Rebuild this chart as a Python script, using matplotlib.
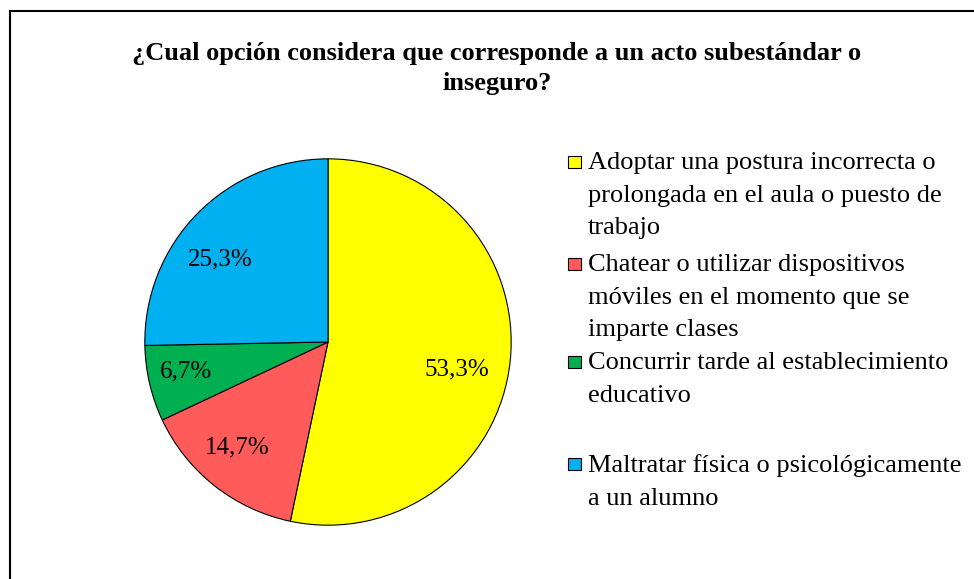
import numpy as np
import matplotlib.pyplot as plt
from matplotlib.patches import Rectangle
from matplotlib.lines import Line2D

plt.rcParams['font.family'] = ['Liberation Serif', 'DejaVu Serif']

titulo = "¿Cual opción considera que corresponde a un acto subestándar o\ninseguro?"
opciones = [
    "Adoptar una postura incorrecta o\nprolongada en el aula o puesto de\ntrabajo",
    "Chatear o utilizar dispositivos\nmóviles en el momento que se\nimparte clases",
    "Concurrir tarde al establecimiento\neducativo",
    "Maltratar física o psicológicamente\na un alumno",
]
porcentajes = [53.3, 14.7, 6.7, 25.3]
colores = ["#FFFF00", "#FF5B5B", "#00B050", "#00B0F0"]

# colocacion de etiquetas tipo "mejor ajuste" de Excel: (distancia, giro en grados)
ajuste_etiquetas = [(0.72, -6.2), (0.76, -2.3), (0.79, -1.3), (0.74, 7.2)]

W, H = 974, 579
fig = plt.figure(figsize=(W / 100, H / 100), dpi=100)

# marco (solo arriba e izquierda visibles)
fig.add_artist(Line2D([10 / W, 1], [1 - 11 / H, 1 - 11 / H], color="black", lw=1.5))
fig.add_artist(Line2D([10 / W, 10 / W], [0, 1 - 11 / H], color="black", lw=1.5))

fig.text(497 / W, 1 - 42 / H, titulo, ha="center", va="top", fontsize=19,
         fontweight="bold", linespacing=1.4)

# pastel
cx, cy, r = 328, 342, 185
ax = fig.add_axes([(cx - r) / W, (H - cy - r) / H, 2 * r / W, 2 * r / H])
wedges, texts, autotexts = ax.pie(
    porcentajes, colors=colores, startangle=90, counterclock=False,
    autopct=lambda p: f"{p:.1f}%".replace(".", ","), pctdistance=0.72,
    wedgeprops=dict(edgecolor="black", linewidth=0.8),
    textprops=dict(fontsize=18, color="black"),
)
for w, t, (d, giro) in zip(wedges, autotexts, ajuste_etiquetas):
    ang = np.deg2rad((w.theta1 + w.theta2) / 2 + giro)
    t.set_position((d * np.cos(ang), d * np.sin(ang)))
ax.set_xlim(-1.01, 1.01)
ax.set_ylim(-1.01, 1.01)

# leyenda manual
ys = [162, 264, 362, 464]
for y, txt, col in zip(ys, opciones, colores):
    fig.add_artist(Rectangle((568 / W, 1 - (y + 6) / H), 13 / W, 12 / H,
                             facecolor=col, edgecolor="black", lw=0.8,
                             transform=fig.transFigure))
    fig.text(588 / W, 1 - (y - 10) / H, txt, ha="left", va="top",
             fontsize=19, linespacing=1.62)

fig.savefig("out.png", dpi=100)
